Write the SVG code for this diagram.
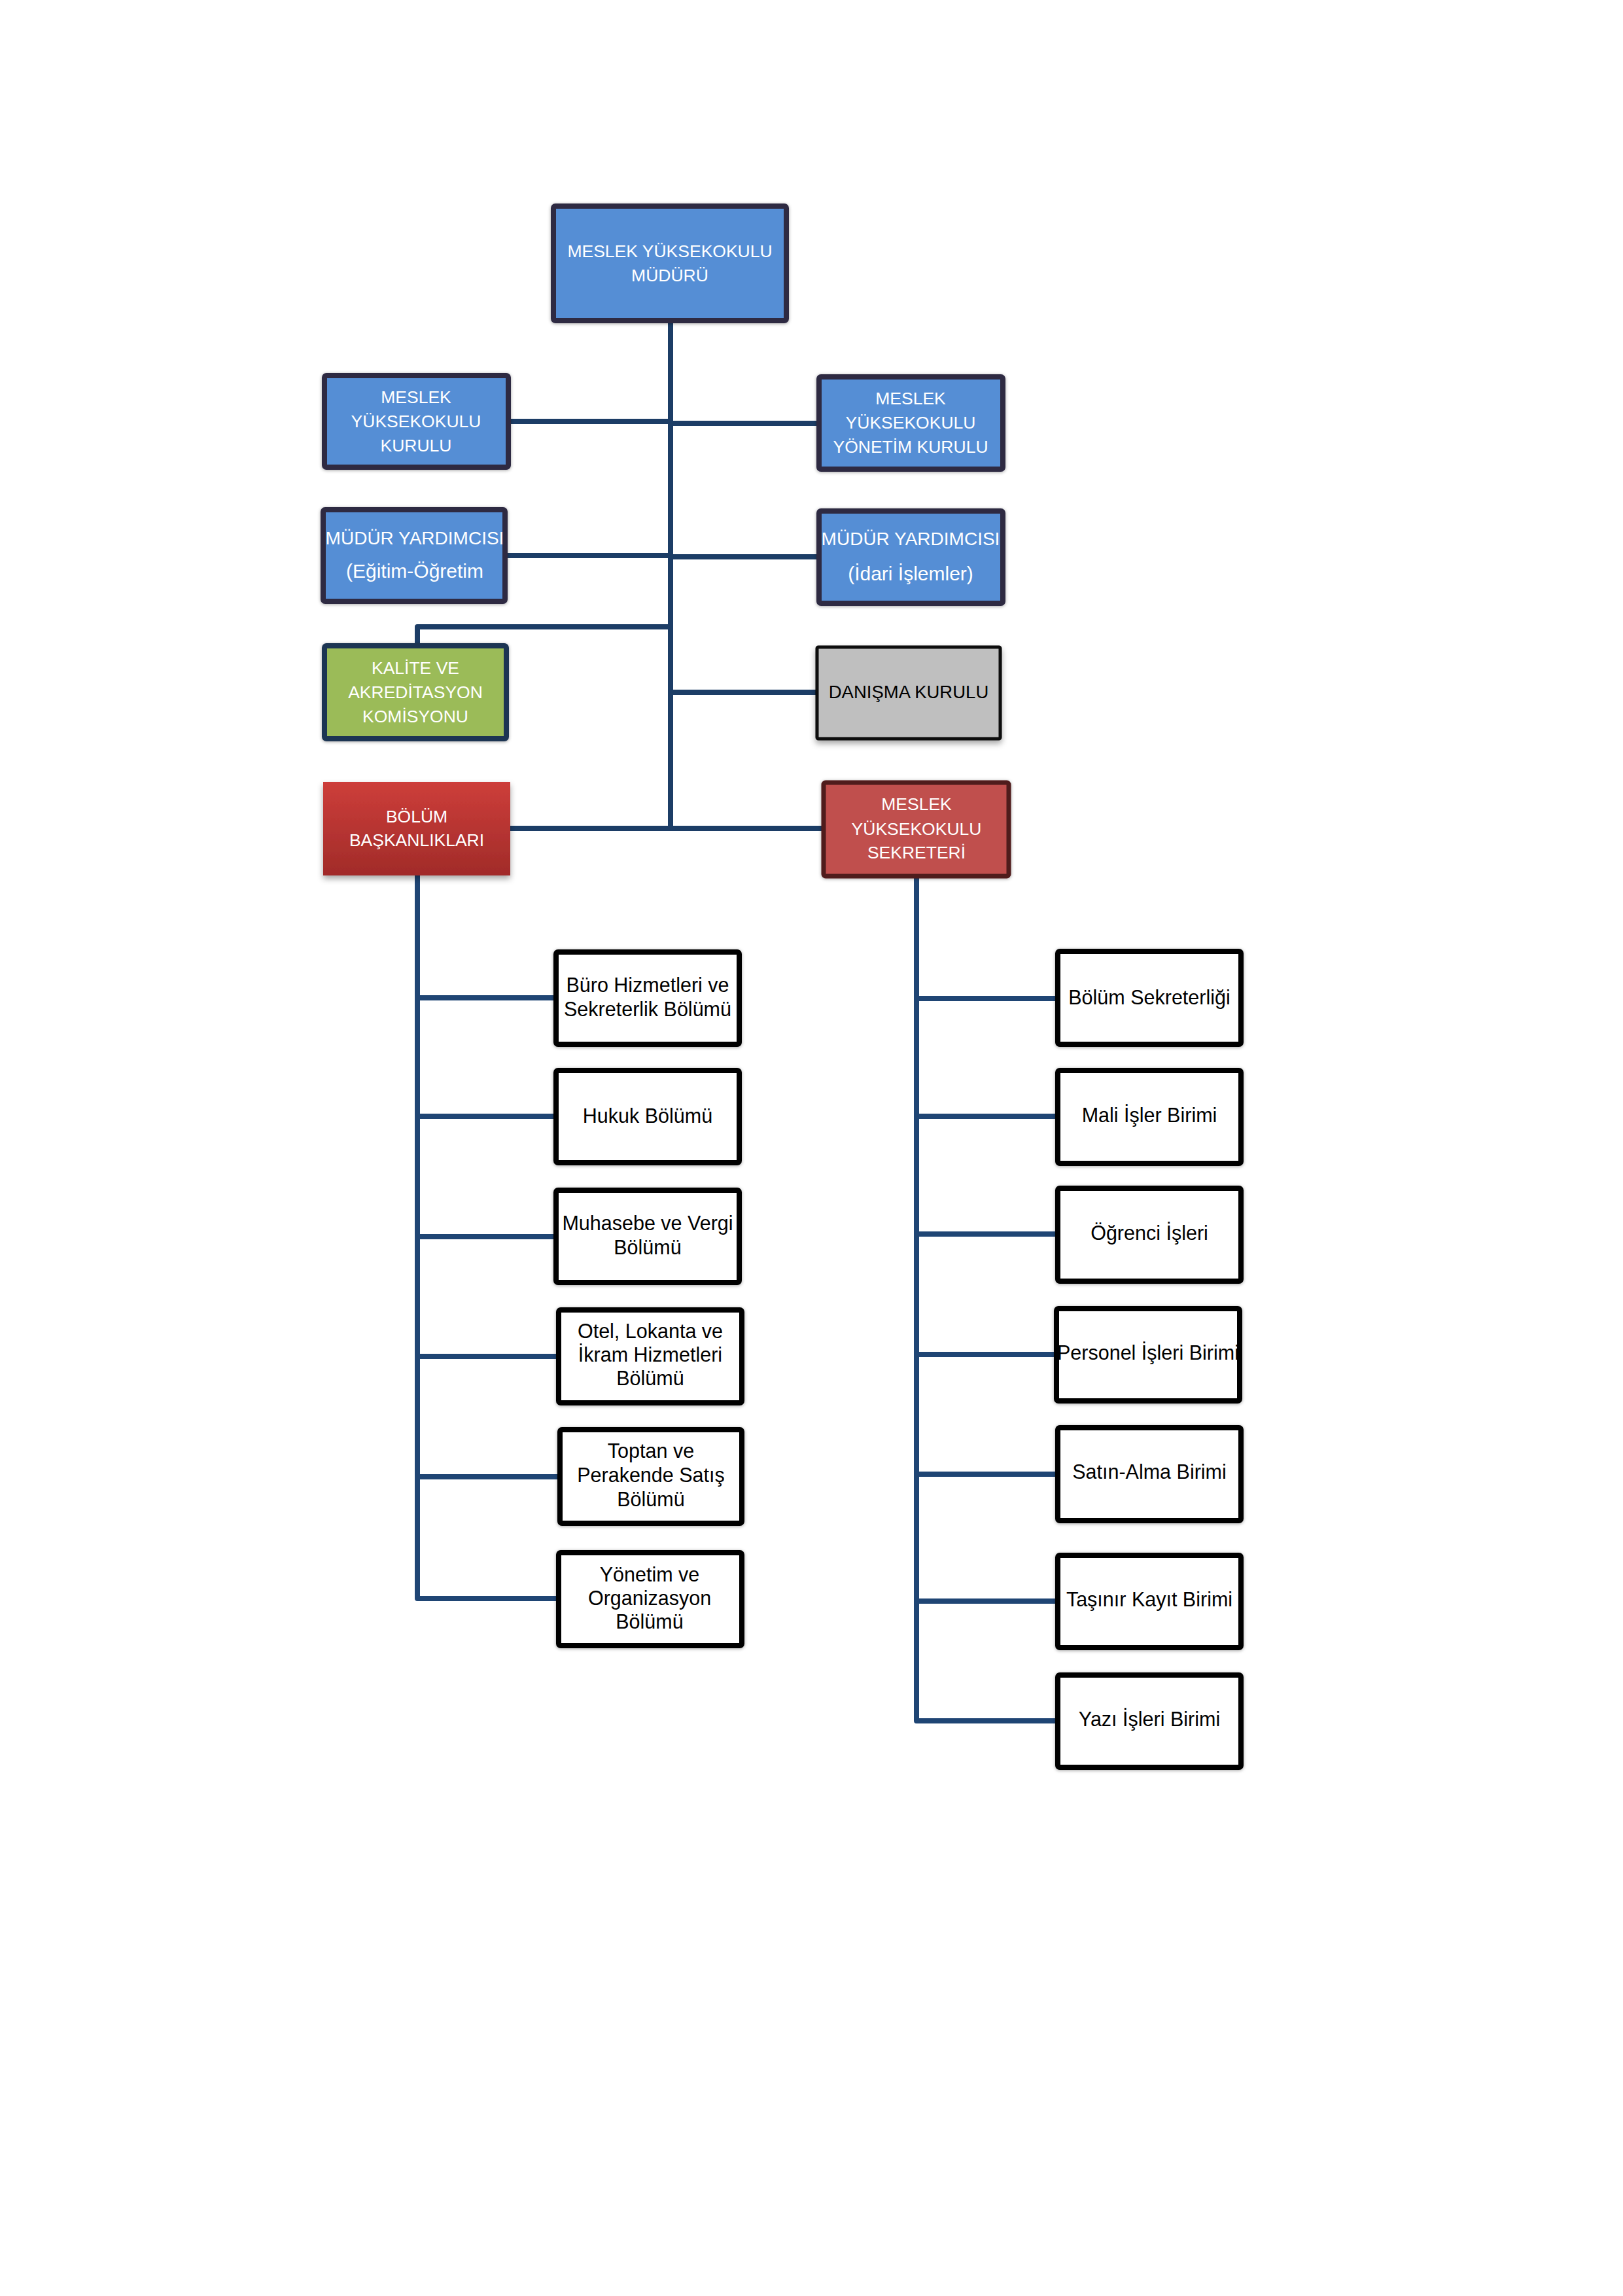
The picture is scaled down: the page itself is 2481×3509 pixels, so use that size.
<svg xmlns="http://www.w3.org/2000/svg" width="2481" height="3509" viewBox="0 0 2481 3509">
<defs>
<style>
.bg{fill:#ffffff}
.conn{fill:none;stroke:#1c3d66;stroke-width:8;stroke-linejoin:round;stroke-linecap:butt}
.conn2{fill:none;stroke:#1f4574;stroke-width:8;stroke-linejoin:round;stroke-linecap:butt}
.blue{fill:#558ed5;stroke:#2e2a42;stroke-width:8}
.green{fill:#9bbb59;stroke:#1f3552;stroke-width:8}
.gray{fill:#bfbfbf;stroke:#0d0d0d;stroke-width:5}
.redg{fill:url(#redGrad);stroke:none}
.red{fill:#c0504d;stroke:#4f1c1c;stroke-width:7}
.w{fill:#ffffff;stroke:#000000;stroke-width:8}
.t{font-family:"Liberation Sans",Arial,sans-serif;text-anchor:middle}
.tw{fill:#ffffff;font-size:26.5px}
.twm{fill:#ffffff;font-size:28px}
.twl{fill:#ffffff;font-size:30px}
.tk{fill:#000000;font-size:27.5px}
.tb{fill:#000000;font-size:30.5px}
</style>
<linearGradient id="redGrad" x1="0" y1="0" x2="0" y2="1">
<stop offset="0" stop-color="#cd3e3a"/>
<stop offset="1" stop-color="#a12b29"/>
</linearGradient>
<filter id="sh" x="-10%" y="-10%" width="120%" height="130%">
<feDropShadow dx="0" dy="1" stdDeviation="2.5" flood-color="#000" flood-opacity="0.35"/>
</filter>
<filter id="sh2" x="-10%" y="-10%" width="120%" height="140%">
<feDropShadow dx="0" dy="5" stdDeviation="5" flood-color="#000" flood-opacity="0.35"/>
</filter>
</defs>
<rect class="bg" x="0" y="0" width="2481" height="3509"/>

<g id="connectors">
<path class="conn" d="M1025 492 V1270"/>
<path class="conn" d="M781 644 H1025"/>
<path class="conn" d="M1025 647 H1250"/>
<path class="conn" d="M776 849 H1025"/>
<path class="conn" d="M1025 851 H1250"/>
<path class="conn" d="M638 986 V958 H1025"/>
<path class="conn" d="M1025 1058 H1248"/>
<path class="conn" d="M780 1266 H1025"/>
<path class="conn" d="M1025 1266 H1257"/>
<path class="conn2" d="M638 1338 V2443 H850"/>
<path class="conn2" d="M638 1525 H848"/>
<path class="conn2" d="M638 1706 H848"/>
<path class="conn2" d="M638 1890 H848"/>
<path class="conn2" d="M638 2073 H852"/>
<path class="conn2" d="M638 2257 H854"/>
<path class="conn2" d="M1401 1342 V2630 H1615"/>
<path class="conn2" d="M1401 1526 H1615"/>
<path class="conn2" d="M1401 1706 H1615"/>
<path class="conn2" d="M1401 1886 H1615"/>
<path class="conn2" d="M1401 2070 H1613"/>
<path class="conn2" d="M1401 2253 H1615"/>
<path class="conn2" d="M1401 2447 H1615"/>
</g>

<g id="n-mudur">
<rect class="blue" x="846" y="315" width="356" height="175" rx="3" filter="url(#sh)"/>
<text class="t tw" x="1024" y="393">MESLEK YÜKSEKOKULU</text>
<text class="t tw" x="1024" y="430">MÜDÜRÜ</text>
</g>

<g id="n-kurulu">
<rect class="blue" x="496" y="574" width="281" height="140" rx="3" filter="url(#sh)"/>
<text class="t tw" x="636" y="616">MESLEK</text>
<text class="t tw" x="636" y="653">YÜKSEKOKULU</text>
<text class="t tw" x="636" y="690">KURULU</text>
</g>

<g id="n-yonetim">
<rect class="blue" x="1252" y="576" width="281" height="141" rx="3" filter="url(#sh)"/>
<text class="t tw" x="1392" y="618">MESLEK</text>
<text class="t tw" x="1392" y="655">YÜKSEKOKULU</text>
<text class="t tw" x="1392" y="692">YÖNETİM KURULU</text>
</g>

<g id="n-myrd-egitim">
<rect class="blue" x="494" y="779" width="278" height="140" rx="3" filter="url(#sh)"/>
<text class="t twm" x="634" y="832">MÜDÜR YARDIMCISI</text>
<text class="t twl" x="634" y="883">(Eğitim-Öğretim</text>
</g>

<g id="n-myrd-idari">
<rect class="blue" x="1252" y="781" width="281" height="141" rx="3" filter="url(#sh)"/>
<text class="t twm" x="1392" y="833">MÜDÜR YARDIMCISI</text>
<text class="t twl" x="1392" y="887">(İdari İşlemler)</text>
</g>

<g id="n-kalite">
<rect class="green" x="496" y="987" width="278" height="142" rx="3" filter="url(#sh)"/>
<text class="t tw" x="635" y="1030">KALİTE VE</text>
<text class="t tw" x="635" y="1067">AKREDİTASYON</text>
<text class="t tw" x="635" y="1104">KOMİSYONU</text>
</g>

<g id="n-danisma">
<rect class="gray" x="1249" y="989" width="280" height="140" rx="2" filter="url(#sh2)"/>
<text class="t tk" x="1389" y="1067">DANIŞMA KURULU</text>
</g>

<g id="n-bolum">
<rect class="redg" x="494" y="1195" width="286" height="143" filter="url(#sh2)"/>
<text class="t tw" x="637" y="1257">BÖLÜM</text>
<text class="t tw" x="637" y="1293">BAŞKANLIKLARI</text>
</g>

<g id="n-sekreter">
<rect class="red" x="1259" y="1196" width="283" height="143" rx="3" filter="url(#sh)"/>
<text class="t tw" x="1401" y="1238">MESLEK</text>
<text class="t tw" x="1401" y="1276">YÜKSEKOKULU</text>
<text class="t tw" x="1401" y="1312">SEKRETERİ</text>
</g>

<g id="n-buro">
<rect class="w" x="850" y="1455" width="280" height="141" rx="3" filter="url(#sh)"/>
<text class="t tb" x="990" y="1516">Büro Hizmetleri ve</text>
<text class="t tb" x="990" y="1553">Sekreterlik Bölümü</text>
</g>

<g id="n-hukuk">
<rect class="w" x="850" y="1636" width="280" height="141" rx="3" filter="url(#sh)"/>
<text class="t tb" x="990" y="1716">Hukuk Bölümü</text>
</g>

<g id="n-muhasebe">
<rect class="w" x="850" y="1819" width="280" height="141" rx="3" filter="url(#sh)"/>
<text class="t tb" x="990" y="1880">Muhasebe ve Vergi</text>
<text class="t tb" x="990" y="1917">Bölümü</text>
</g>

<g id="n-otel">
<rect class="w" x="854" y="2002" width="280" height="142" rx="3" filter="url(#sh)"/>
<text class="t tb" x="994" y="2045">Otel, Lokanta ve</text>
<text class="t tb" x="994" y="2081">İkram Hizmetleri</text>
<text class="t tb" x="994" y="2117">Bölümü</text>
</g>

<g id="n-toptan">
<rect class="w" x="856" y="2185" width="278" height="143" rx="3" filter="url(#sh)"/>
<text class="t tb" x="995" y="2228">Toptan ve</text>
<text class="t tb" x="995" y="2265">Perakende Satış</text>
<text class="t tb" x="995" y="2302">Bölümü</text>
</g>

<g id="n-yonetim-org">
<rect class="w" x="854" y="2373" width="280" height="142" rx="3" filter="url(#sh)"/>
<text class="t tb" x="993" y="2417">Yönetim ve</text>
<text class="t tb" x="993" y="2453">Organizasyon</text>
<text class="t tb" x="993" y="2489">Bölümü</text>
</g>

<g id="n-bolum-sek">
<rect class="w" x="1617" y="1454" width="280" height="142" rx="3" filter="url(#sh)"/>
<text class="t tb" x="1757" y="1535">Bölüm Sekreterliği</text>
</g>

<g id="n-mali">
<rect class="w" x="1617" y="1636" width="280" height="142" rx="3" filter="url(#sh)"/>
<text class="t tb" x="1757" y="1715">Mali İşler Birimi</text>
</g>

<g id="n-ogrenci">
<rect class="w" x="1617" y="1816" width="280" height="142" rx="3" filter="url(#sh)"/>
<text class="t tb" x="1757" y="1895">Öğrenci İşleri</text>
</g>

<g id="n-personel">
<rect class="w" x="1615" y="2000" width="280" height="141" rx="3" filter="url(#sh)"/>
<text class="t tb" x="1755" y="2078">Personel İşleri Birimi</text>
</g>

<g id="n-satin">
<rect class="w" x="1617" y="2182" width="280" height="142" rx="3" filter="url(#sh)"/>
<text class="t tb" x="1757" y="2260">Satın-Alma Birimi</text>
</g>

<g id="n-tasinir">
<rect class="w" x="1617" y="2377" width="280" height="141" rx="3" filter="url(#sh)"/>
<text class="t tb" x="1757" y="2455">Taşınır Kayıt Birimi</text>
</g>

<g id="n-yazi">
<rect class="w" x="1617" y="2560" width="280" height="141" rx="3" filter="url(#sh)"/>
<text class="t tb" x="1757" y="2638">Yazı İşleri Birimi</text>
</g>
</svg>
